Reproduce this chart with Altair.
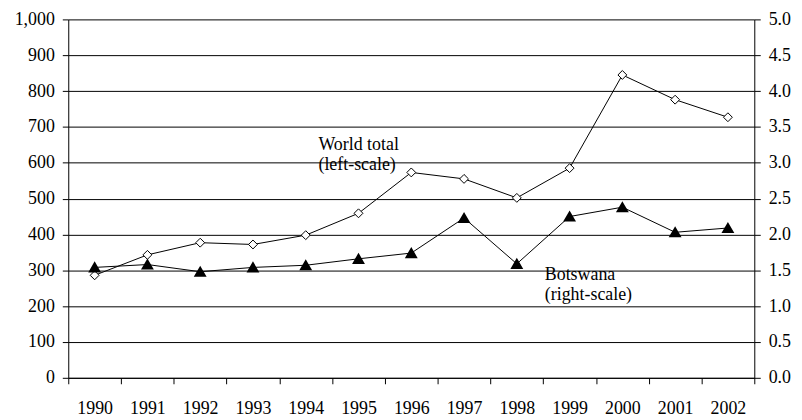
import altair as alt
import pandas as pd

years = ["1990", "1991", "1992", "1993", "1994", "1995", "1996",
         "1997", "1998", "1999", "2000", "2001", "2002"]
world_total = [286, 343, 377, 372, 398, 459, 573, 555, 502, 585, 845, 776, 727]
botswana = [1.54, 1.58, 1.48, 1.54, 1.57, 1.66, 1.74, 2.23, 1.59, 2.25, 2.38, 2.03, 2.09]

df = pd.DataFrame({"year": years, "world": world_total, "bw": botswana})

FONT = "Liberation Serif"
FS = 18

x_enc = alt.X("year:N", sort=years, title=None,
              scale=alt.Scale(paddingInner=0, paddingOuter=0),
              axis=alt.Axis(labelAngle=0, tickBand="extent", labelPadding=16,
                            tickSize=6, domainColor="black", tickColor="black",
                            labelFont=FONT, labelFontSize=FS, labelColor="black"))

y_world = alt.Y("world:Q", title=None,
                scale=alt.Scale(domain=[0, 1000], nice=False, zero=True),
                axis=alt.Axis(values=list(range(0, 1001, 100)), format=",d",
                              grid=True, gridColor="black", gridWidth=1,
                              domainColor="black", tickColor="black", tickSize=6,
                              labelFont=FONT, labelFontSize=FS, labelColor="black",
                              labelPadding=8))

y_bw = alt.Y("bw:Q", title=None,
             scale=alt.Scale(domain=[0, 5], nice=False, zero=True),
             axis=alt.Axis(orient="right", values=[i * 0.5 for i in range(11)],
                           format=".1f", grid=False,
                           domainColor="black", tickColor="black", tickSize=6,
                           labelFont=FONT, labelFontSize=FS, labelColor="black",
                           labelPadding=8))

world_base = alt.Chart(df).encode(x=x_enc, y=y_world)
world = alt.layer(
    world_base.mark_line(color="black", strokeWidth=1),
    world_base.mark_point(shape="diamond", filled=True, fill="white",
                          stroke="black", strokeWidth=1, size=80, opacity=1),
)

bw_base = alt.Chart(df).encode(x=x_enc, y=y_bw)
bw = alt.layer(
    bw_base.mark_line(color="black", strokeWidth=1),
    bw_base.mark_point(shape="triangle-up", filled=True, fill="black",
                       stroke="black", size=90, opacity=1),
)

ann_world = alt.Chart(pd.DataFrame({"t": [["World total", "(left-scale)"]]})).mark_text(
    font=FONT, fontSize=FS, align="left", baseline="alphabetic", lineHeight=20, color="black"
).encode(text="t:N", x=alt.value(252), y=alt.value(132))

ann_bw = alt.Chart(pd.DataFrame({"t": [["Botswana", "(right-scale)"]]})).mark_text(
    font=FONT, fontSize=FS, align="left", baseline="alphabetic", lineHeight=21, color="black"
).encode(text="t:N", x=alt.value(480), y=alt.value(262))

chart = alt.layer(world, bw, ann_world, ann_bw).resolve_scale(
    y="independent"
).properties(
    width=691, height=361,
    autosize=alt.AutoSizeParams(type="none"),
    padding={"left": 60.7, "top": 10, "right": 40, "bottom": 38}
).configure_view(stroke=None)

chart.save("out.html", embed_options={"renderer": "svg", "actions": False})
